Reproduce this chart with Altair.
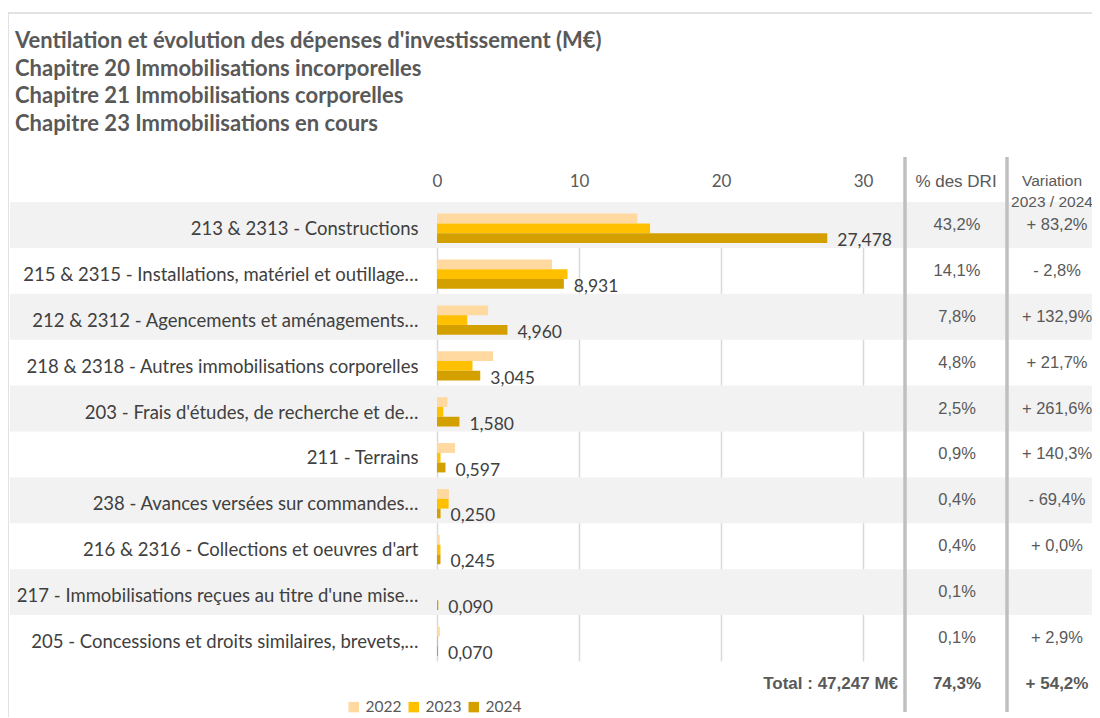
import altair as alt
import pandas as pd

CATEGORIES = [
    "213 & 2313 - Constructions",
    "215 & 2315 - Installations, matériel et outillage…",
    "212 & 2312 - Agencements et aménagements…",
    "218 & 2318 - Autres immobilisations corporelles",
    "203 - Frais d'études, de recherche et de…",
    "211 - Terrains",
    "238 - Avances versées sur commandes…",
    "216 & 2316 - Collections et oeuvres d'art",
    "217 - Immobilisations reçues au titre d'une mise…",
    "205 - Concessions et droits similaires, brevets,…",
]
YEARS = ["2022", "2023", "2024"]
Y2022 = [14.1, 8.1, 3.6, 3.95, 0.73, 1.27, 0.84, 0.19, 0.0, 0.2]
Y2023 = [15.0, 9.19, 2.13, 2.50, 0.437, 0.248, 0.817, 0.245, 0.0, 0.068]
Y2024 = [27.478, 8.931, 4.960, 3.045, 1.580, 0.597, 0.250, 0.245, 0.090, 0.070]
PCT_DRI = [43.2, 14.1, 7.8, 4.8, 2.5, 0.9, 0.4, 0.4, 0.1, 0.1]
VARIATION = [83.2, -2.8, 132.9, 21.7, 261.6, 140.3, -69.4, 0.0, None, 2.9]
TOTAL = 47.247
TOTAL_PCT = 74.3
TOTAL_VAR = 54.2
X_TICKS = [0, 10, 20, 30]
COLORS = ["#FFD9A0", "#FFC000", "#D4A000"]
TITLE_LINES = [
    "Ventilation et évolution des dépenses d'investissement (M€)",
    "Chapitre 20 Immobilisations  incorporelles",
    "Chapitre 21 Immobilisations  corporelles",
    "Chapitre 23 Immobilisations  en cours",
]

FONT = "Lato"
TFONT = "Liberation Sans"
GREY = "#595959"


def fr(v, d=1):
    return f"{v:.{d}f}".replace(".", ",")


def var_label(v):
    if v is None:
        return ""
    sign = "-" if v < 0 else "+"
    return f"{sign} {fr(abs(v))}%"


rows = []
for i, c in enumerate(CATEGORIES):
    for y, vals in zip(YEARS, [Y2022, Y2023, Y2024]):
        rows.append({"category": c, "year": y, "value": vals[i]})
df = pd.DataFrame(rows)

table = pd.DataFrame({
    "category": CATEGORIES,
    "idx": list(range(len(CATEGORIES))),
    "pct": [fr(p) + "%" for p in PCT_DRI],
    "var": [var_label(v) for v in VARIATION],
})

one = pd.DataFrame({"a": [0]})

y_scale = alt.Scale(domain=CATEGORIES, paddingInner=0, paddingOuter=0)
y_axis = alt.Axis(title=None, ticks=False, domain=False, labelFontSize=18.5, labelFont=FONT,
                  labelColor="#404040", labelPadding=19, labelLimit=500, labelOffset=4)
y_enc = alt.Y("category:N", sort=CATEGORIES, scale=y_scale, axis=y_axis)
yoff = alt.YOffset("year:N", scale=alt.Scale(domain=YEARS, paddingInner=0, paddingOuter=0.85, align=0.7))
x_scale = alt.Scale(domain=[0, 32.6], nice=False)

border = alt.Chart(one).mark_rect(fillOpacity=0, stroke="#d9d9d9", strokeWidth=1.5).encode(
    x=alt.value(-429), x2=alt.value(700), y=alt.value(-189), y2=alt.value(600)
)

bands = alt.Chart(table).transform_filter("datum.idx % 2 == 0").mark_rect(fill="#f2f2f2").encode(
    y=y_enc, x=alt.value(-427), x2=alt.value(700)
)

bars = alt.Chart(df).mark_bar().encode(
    y=y_enc,
    yOffset=yoff,
    x=alt.X("value:Q", scale=x_scale,
            axis=alt.Axis(orient="top", values=X_TICKS, title=None, ticks=False, tickSize=0, domain=False,
                          labelFontSize=17, labelFont=FONT, labelColor=GREY, labelPadding=21,
                          labelFlush=False, labelBaseline="middle", gridColor="#d9d9d9", gridWidth=1.5)),
    color=alt.Color("year:N", scale=alt.Scale(domain=YEARS, range=COLORS),
                    legend=alt.Legend(orient="none", legendX=-91, legendY=497, direction="horizontal",
                                      title=None, symbolType="square", symbolSize=110, symbolStrokeWidth=0,
                                      labelFontSize=15.5, labelFont=FONT, labelColor=GREY,
                                      columnPadding=4, labelOffset=4)),
)

labels = alt.Chart(df).transform_filter("datum.year == '2024'").transform_calculate(
    lab="replace(format(datum.value, '.3f'), '.', ',')"
).mark_text(align="left", baseline="middle", dx=10, dy=3, fontSize=17.5, font=FONT, color="#404040").encode(
    y=y_enc, yOffset=yoff, x=alt.X("value:Q", scale=x_scale), text="lab:N"
)

pct_text = alt.Chart(table).mark_text(fontSize=16.5, font=TFONT, color=GREY, baseline="middle").encode(
    y=y_enc, x=alt.value(520), text="pct:N"
)
var_text = alt.Chart(table).mark_text(fontSize=16.5, font=TFONT, color=GREY, baseline="middle").encode(
    y=y_enc, x=alt.value(620), text="var:N"
)

hdr1 = alt.Chart(one).mark_text(text="% des DRI", fontSize=17, font=TFONT, color=GREY).encode(
    x=alt.value(519), y=alt.value(-20))
hdr2 = alt.Chart(one).mark_text(text=["Variation", "2023 / 2024"], fontSize=15.5, font=TFONT, color=GREY,
                                lineHeight=21).encode(x=alt.value(615), y=alt.value(-21))

sep1 = alt.Chart(one).mark_rule(color="#bfbfbf", strokeWidth=3.5).encode(
    x=alt.value(468), y=alt.value(-45), y2=alt.value(510))
sep2 = alt.Chart(one).mark_rule(color="#bfbfbf", strokeWidth=3.5).encode(
    x=alt.value(570), y=alt.value(-45), y2=alt.value(510))

total_df = pd.DataFrame({"t": [TOTAL], "p": [TOTAL_PCT], "v": [TOTAL_VAR]})
tot1 = alt.Chart(total_df).transform_calculate(
    lab="'Total :  ' + replace(format(datum.t, '.3f'), '.', ',') + ' M€'"
).mark_text(align="right", fontSize=17, font=TFONT, fontWeight="bold", color=GREY).encode(
    x=alt.value(461), y=alt.value(482), text="lab:N")
tot2 = alt.Chart(total_df).transform_calculate(
    lab="replace(format(datum.p, '.1f'), '.', ',') + '%'"
).mark_text(fontSize=17, font=TFONT, fontWeight="bold", color=GREY).encode(
    x=alt.value(520), y=alt.value(482), text="lab:N")
tot3 = alt.Chart(total_df).transform_calculate(
    lab="'+ ' + replace(format(datum.v, '.1f'), '.', ',') + '%'"
).mark_text(fontSize=17, font=TFONT, fontWeight="bold", color=GREY).encode(
    x=alt.value(620), y=alt.value(482), text="lab:N")

title = alt.Chart(one).mark_text(text=TITLE_LINES, align="left", baseline="middle", lineHeight=27.6,
                                 fontSize=22, font=FONT, fontWeight="bold", color=GREY).encode(
    x=alt.value(-422), y=alt.value(-161))

chart = alt.layer(
    border, bands, bars, labels, pct_text, var_text, hdr1, hdr2, sep1, sep2, tot1, tot2, tot3, title
).properties(
    width=463, height=459,
    padding={"left": 429, "top": 194, "right": 192, "bottom": 56},
    autosize=alt.AutoSizeParams(type="none"),
    background="white",
).configure_view(stroke=None)

chart.save("out.html", embed_options={"renderer": "svg", "actions": False})
